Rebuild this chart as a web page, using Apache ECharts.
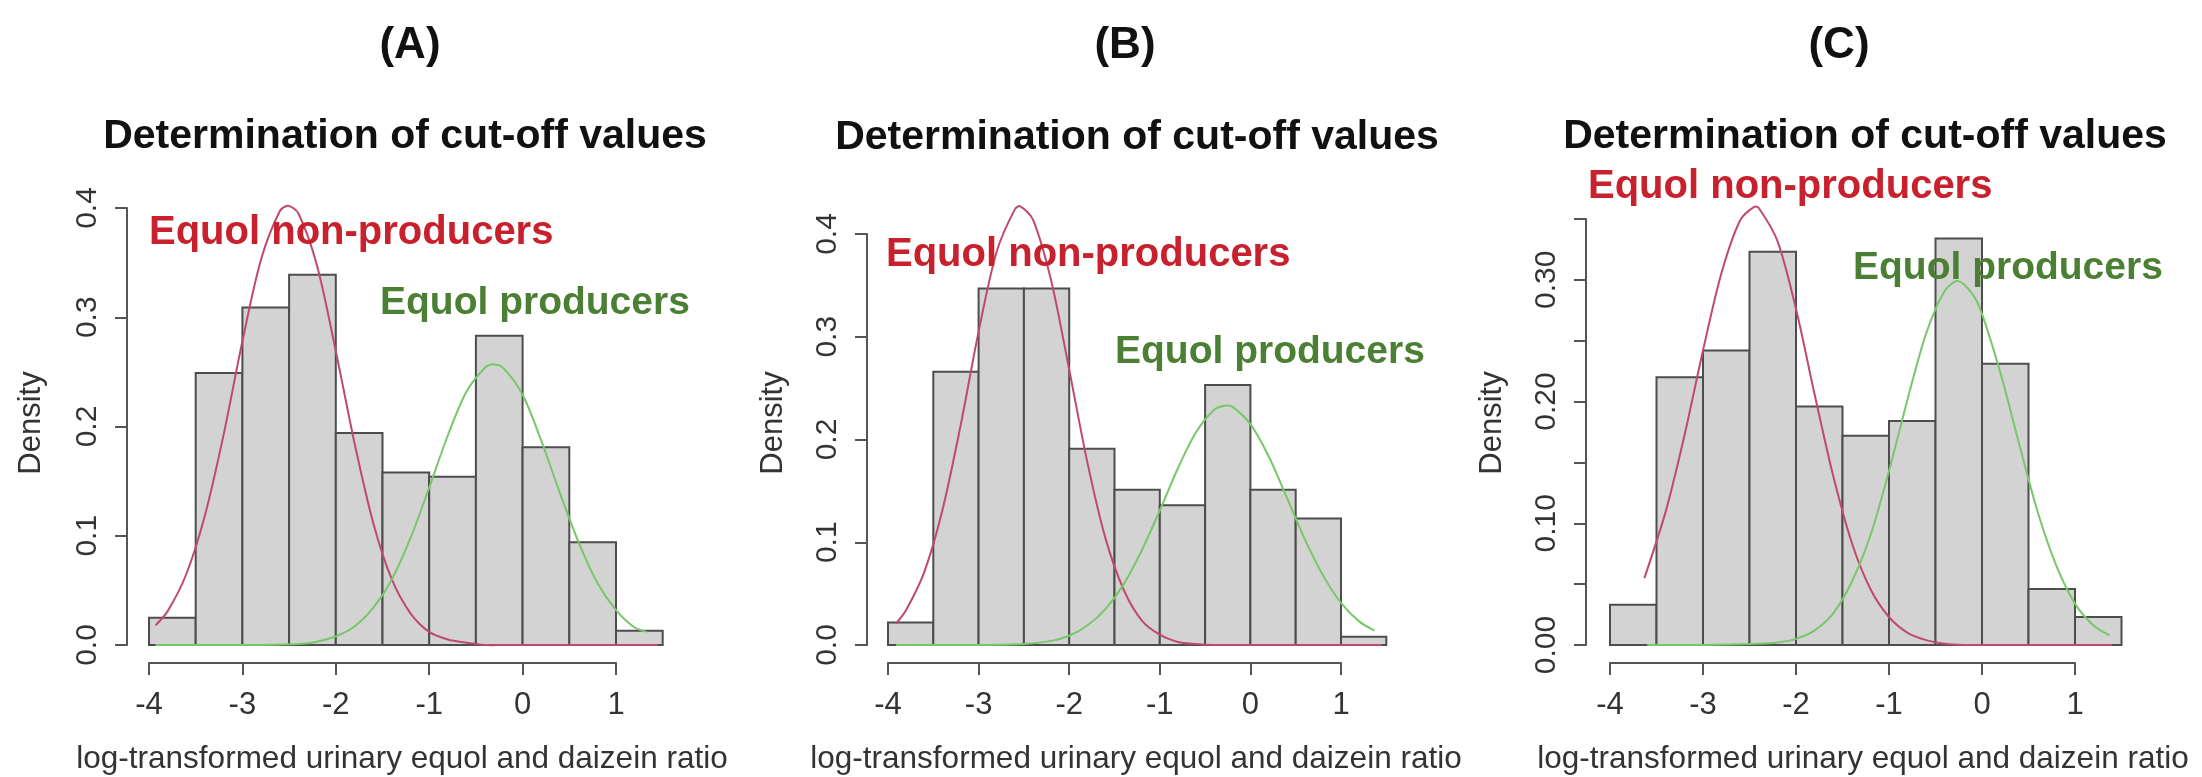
<!DOCTYPE html>
<html>
<head>
<meta charset="utf-8">
<script src="https://cdn.jsdelivr.net/npm/echarts@6/dist/echarts.min.js"></script>
<style>
html, body { margin: 0; padding: 0; background: #fff; }
#chart { width: 2202px; height: 777px; }
</style>
</head>
<body>
<div id="chart"></div>
<script>
// histogram bins (width 0.5) and densities
const binStarts = [-4, -3.5, -3, -2.5, -2, -1.5, -1, -0.5, 0, 0.5, 1]
const binWidth = 0.5
const densityA = [0.025, 0.249, 0.309, 0.339, 0.194, 0.158, 0.154, 0.283, 0.181, 0.094, 0.013]
const densityB = [0.022, 0.266, 0.347, 0.347, 0.191, 0.151, 0.136, 0.253, 0.151, 0.123, 0.008]
const densityC = [0.033, 0.220, 0.242, 0.323, 0.196, 0.172, 0.184, 0.334, 0.231, 0.046, 0.023]

// fitted curves, points
const redXA = [-3.93, -3.8, -3.6, -3.4, -3.2, -3.0, -2.8, -2.6, -2.51, -2.4, -2.2, -2.0, -1.8, -1.6, -1.4, -1.2, -1.0, -0.8, -0.6, -0.4, -0.2, 0.2, 0.6, 1.0, 1.45]
const redYA = [0.018, 0.031, 0.065, 0.119, 0.193, 0.278, 0.353, 0.397, 0.402, 0.395, 0.347, 0.269, 0.185, 0.112, 0.060, 0.029, 0.012, 0.005, 0.002, 0, 0, 0, 0, 0, 0]
const greenXA = [-3.93, -3.0, -2.4, -2.2, -2.0, -1.8, -1.6, -1.4, -1.2, -1.0, -0.8, -0.6, -0.4, -0.31, -0.2, 0, 0.2, 0.4, 0.6, 0.8, 1.0, 1.2, 1.33]
const greenYA = [0, 0, 0.001, 0.003, 0.008, 0.017, 0.034, 0.060, 0.098, 0.144, 0.192, 0.232, 0.254, 0.257, 0.253, 0.229, 0.187, 0.139, 0.094, 0.057, 0.032, 0.016, 0.012]

const redXB = [-3.91, -3.8, -3.6, -3.4, -3.2, -3.0, -2.8, -2.6, -2.54, -2.4, -2.2, -2.0, -1.8, -1.6, -1.4, -1.2, -1.0, -0.8, -0.6, -0.4, -0.2, 0.2, 0.6, 1.0, 1.45]
const redYB = [0.021, 0.034, 0.071, 0.131, 0.213, 0.305, 0.383, 0.424, 0.427, 0.414, 0.355, 0.268, 0.178, 0.104, 0.054, 0.024, 0.010, 0.003, 0.001, 0, 0, 0, 0, 0, 0]
const greenXB = [-3.91, -3.0, -2.5, -2.2, -2.0, -1.8, -1.6, -1.4, -1.2, -1.0, -0.8, -0.6, -0.4, -0.27, -0.2, 0, 0.2, 0.4, 0.6, 0.8, 1.0, 1.2, 1.37]
const greenYB = [0, 0, 0.001, 0.004, 0.009, 0.019, 0.035, 0.059, 0.092, 0.131, 0.172, 0.207, 0.229, 0.233, 0.232, 0.215, 0.184, 0.144, 0.103, 0.068, 0.041, 0.023, 0.014]

const redXC = [-3.63, -3.4, -3.2, -3.0, -2.8, -2.6, -2.45, -2.4, -2.2, -2.0, -1.8, -1.6, -1.4, -1.2, -1.0, -0.8, -0.6, -0.4, -0.2, 0.2, 0.6, 1.0, 1.4]
const redYC = [0.055, 0.110, 0.172, 0.242, 0.306, 0.349, 0.360, 0.359, 0.332, 0.276, 0.206, 0.139, 0.084, 0.046, 0.023, 0.010, 0.004, 0.001, 0, 0, 0, 0, 0]
const greenXC = [-3.6, -3.0, -2.4, -2.2, -2.0, -1.8, -1.6, -1.4, -1.2, -1.0, -0.8, -0.6, -0.4, -0.26, -0.1, 0, 0.2, 0.4, 0.6, 0.8, 1.0, 1.2, 1.37]
const greenYC = [0, 0, 0.001, 0.002, 0.005, 0.012, 0.026, 0.052, 0.090, 0.143, 0.202, 0.256, 0.291, 0.299, 0.288, 0.272, 0.223, 0.165, 0.109, 0.065, 0.034, 0.016, 0.008]

const panelTags = ['(A)', '(B)', '(C)']
const mainTitle = 'Determination of cut-off values'
const redLabel = 'Equol non-producers'
const greenLabel = 'Equol producers'
const xName = 'log-transformed urinary equol and daizein ratio'
const yName = 'Density'

const FONT = '"Liberation Sans", Arial, sans-serif'
const AXIS_COLOR = '#555'

const chart = echarts.init(document.getElementById('chart'))

const zip = (xs, ys) => xs.map((x, i) => [x, ys[i]])
const bins = dens => binStarts.map((s, i) => [s, s + binWidth, dens[i]])

const renderBar = (params, api) => {
  const p0 = api.coord([api.value(0), api.value(2)])
  const p1 = api.coord([api.value(1), 0])
  return {
    type: 'rect',
    shape: { x: p0[0], y: p0[1], width: p1[0] - p0[0], height: p1[1] - p0[1] },
    style: { fill: '#d3d3d3', stroke: '#4d4d4d', lineWidth: 2 }
  }
}

// whole curve drawn once as a polyline, so it can run past the axis end at x = 1
const curveRenderer = (pts, color) => (params, api) => {
  if (params.dataIndex !== 0) return null
  return {
    type: 'polyline',
    shape: { points: pts.map(pt => api.coord(pt)), smooth: 0.3 },
    style: { stroke: color, lineWidth: 2, fill: null }
  }
}

// panel layout: grid spans x -4..1 and y 0..top tick, like R's axes
const panels = [
  { grid: { left: 149, top: 208, width: 467, height: 437 }, yMax: 0.4, yStep: 0.1, yOff: 22,
    dens: densityA, red: zip(redXA, redYA), green: zip(greenXA, greenYA),
    tag: [410, 46], title: [405, 137], redPos: [149, 233], greenPos: [380, 303], xn: [402, 759], yn: [31, 423] },
  { grid: { left: 888, top: 234, width: 453, height: 411 }, yMax: 0.4, yStep: 0.1, yOff: 21,
    dens: densityB, red: zip(redXB, redYB), green: zip(greenXB, greenYB),
    tag: [1125, 46], title: [1137, 138], redPos: [886, 255], greenPos: [1115, 352], xn: [1136, 759], yn: [773, 423] },
  { grid: { left: 1610, top: 219, width: 465, height: 426 }, yMax: 0.35, yStep: 0.05, yOff: 24,
    dens: densityC, red: zip(redXC, redYC), green: zip(greenXC, greenYC),
    tag: [1839, 46], title: [1865, 137], redPos: [1588, 187], greenPos: [1853, 268], xn: [1863, 759], yn: [1492, 423] }
]

const grids = [], xAxes = [], yAxes = [], series = [], texts = []

panels.forEach((p, i) => {
  grids.push(p.grid)
  xAxes.push({
    type: 'value', gridIndex: i, min: -4, max: 1, interval: 1, offset: 18,
    axisLine: { show: true, onZero: false, lineStyle: { color: AXIS_COLOR, width: 2 } },
    axisTick: { show: true, length: 12, lineStyle: { color: AXIS_COLOR, width: 2 } },
    axisLabel: { fontSize: 31, color: '#333', fontFamily: FONT, margin: 27 },
    splitLine: { show: false }
  })
  yAxes.push({
    type: 'value', gridIndex: i, min: 0, max: p.yMax, interval: p.yStep, offset: p.yOff,
    axisLine: { show: true, onZero: false, lineStyle: { color: AXIS_COLOR, width: 2 } },
    axisTick: { show: true, length: 12, lineStyle: { color: AXIS_COLOR, width: 2 } },
    axisLabel: {
      fontSize: 30, color: '#333', fontFamily: FONT, rotate: 90, margin: 24,
      formatter: v => {
        if (p.yStep === 0.1) return v.toFixed(1)
        return Math.round(v * 100) % 10 === 0 ? v.toFixed(2) : ''
      }
    },
    splitLine: { show: false }
  })
  series.push({
    type: 'custom', xAxisIndex: i, yAxisIndex: i, clip: false,
    renderItem: renderBar, encode: { x: [0, 1], y: 2 }, data: bins(p.dens), z: 1
  })
  series.push({
    type: 'custom', xAxisIndex: i, yAxisIndex: i, clip: false,
    renderItem: curveRenderer(p.red, '#c04a6c'), encode: { x: 0, y: 1 }, data: p.red, z: 3
  })
  series.push({
    type: 'custom', xAxisIndex: i, yAxisIndex: i, clip: false,
    renderItem: curveRenderer(p.green, '#78c76a'), encode: { x: 0, y: 1 }, data: p.green, z: 4
  })

  const txt = (x, y, text, size, weight, fill, align, rot) => texts.push({
    type: 'text', x, y, rotation: rot || 0, z: 10,
    style: { text, fontSize: size, fontWeight: weight, fontFamily: FONT, fill, align, verticalAlign: 'middle' }
  })
  txt(p.tag[0], p.tag[1], panelTags[i], 44, 'bold', '#111', 'center')
  txt(p.title[0], p.title[1], mainTitle, 41, 'bold', '#111', 'center')
  txt(p.redPos[0], p.redPos[1], redLabel, 40, 'bold', '#c8202c', 'left')
  txt(p.greenPos[0], p.greenPos[1], greenLabel, 39, 'bold', '#4b7f33', 'left')
  txt(p.xn[0], p.xn[1], xName, 31.5, 'normal', '#333', 'center')
  txt(p.yn[0], p.yn[1], yName, 31, 'normal', '#333', 'center', Math.PI / 2)
})

chart.setOption({
  backgroundColor: '#fff',
  animation: false,
  grid: grids,
  xAxis: xAxes,
  yAxis: yAxes,
  series: series,
  graphic: texts
})
</script>
</body>
</html>
